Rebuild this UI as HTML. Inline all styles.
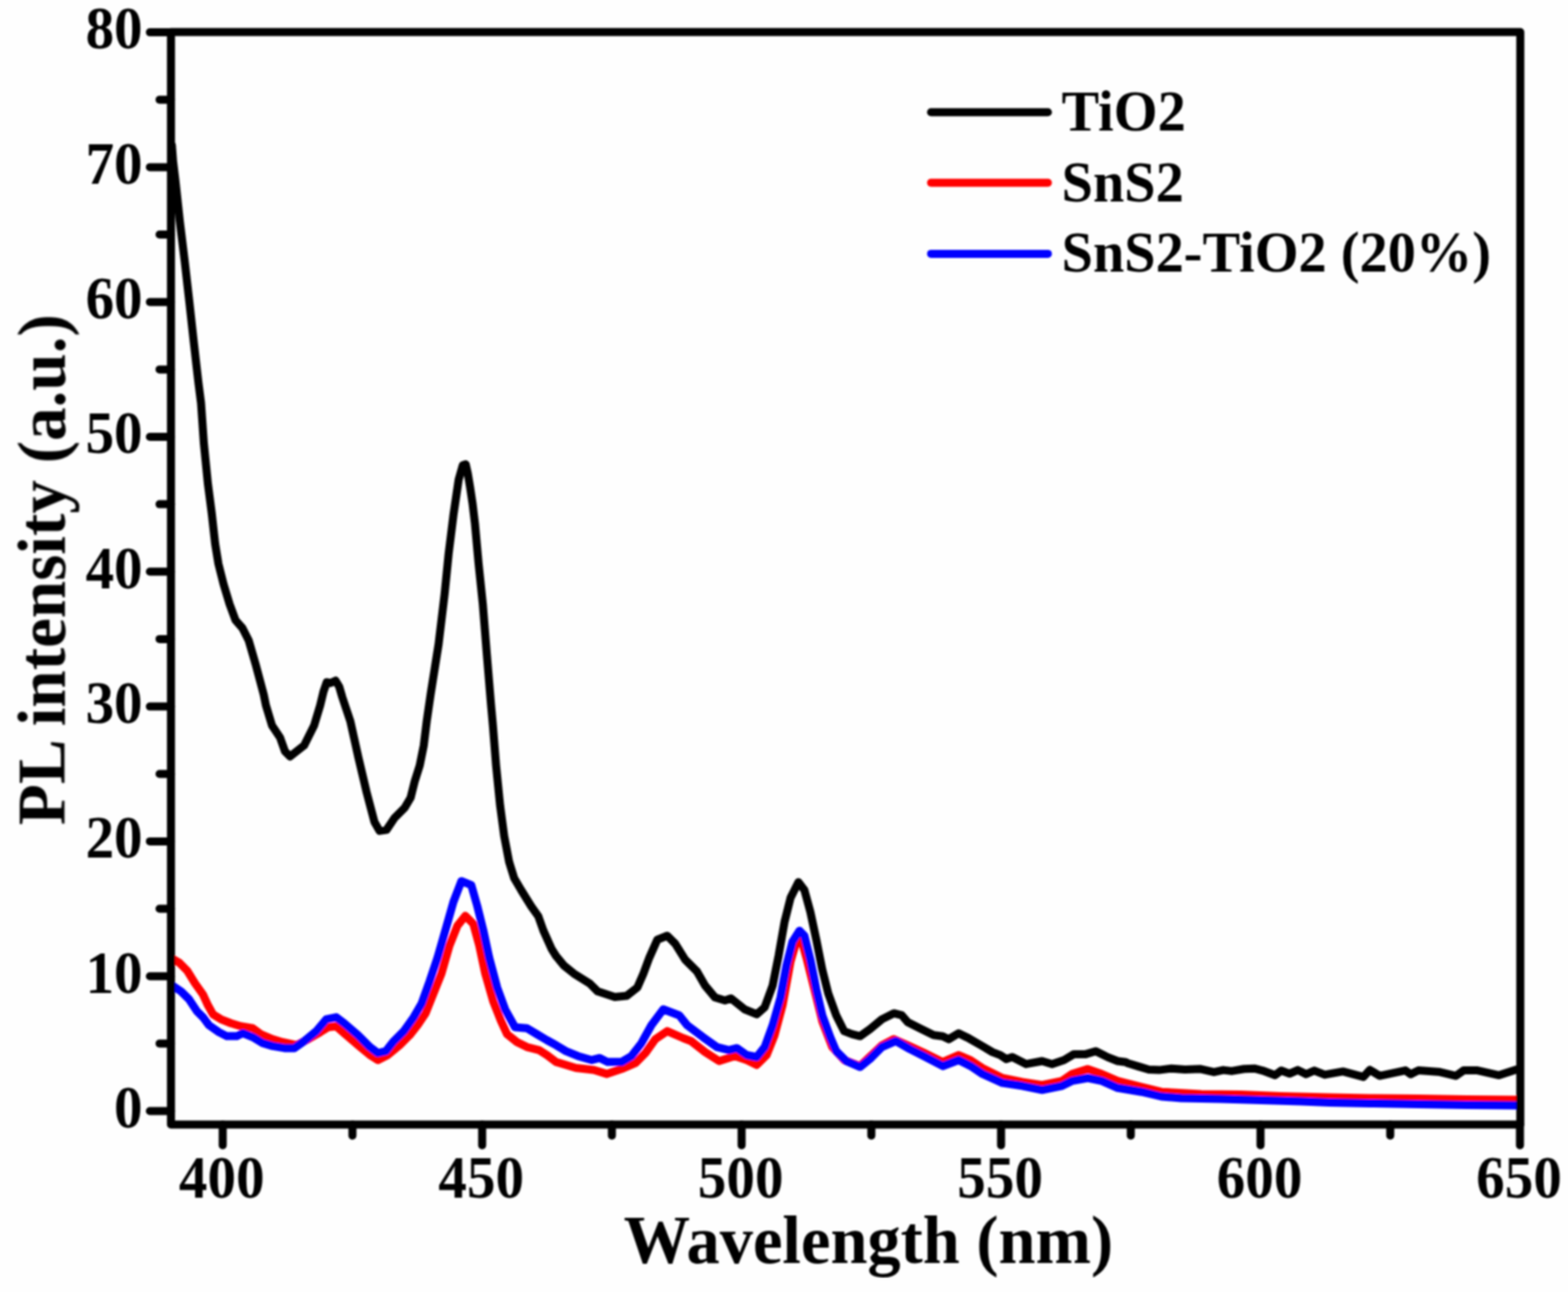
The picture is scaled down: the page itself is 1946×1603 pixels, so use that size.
<!DOCTYPE html>
<html><head><meta charset="utf-8"><style>
html,body{margin:0;padding:0;background:#fefefe;}
svg{display:block;}
text{font-family:"Liberation Serif","Times New Roman",serif;font-weight:bold;fill:#000;}
</style></head><body>
<svg width="1946" height="1603" viewBox="0 0 1946 1603">
<defs><filter id="b" x="0" y="0" width="1" height="1"><feGaussianBlur stdDeviation="1.3"/></filter></defs>
<rect width="1946" height="1603" fill="#fefefe"/>
<g filter="url(#b)">
<g fill="none" stroke-linejoin="round" stroke-linecap="round" stroke-width="10">
<path stroke="#000" d="M213.3,180.0 L214.8,200.0 L217.8,224.9 L223.2,274.8 L229.3,324.7 L235.0,374.6 L240.5,424.5 L246.2,474.3 L249.5,500.0 L253.0,550.0 L258.0,600.0 L262.8,637.0 L267.0,674.6 L271.1,699.6 L277.4,724.6 L284.9,749.5 L292.3,769.5 L301.0,779.4 L308.6,794.4 L317.3,824.4 L327.3,861.8 L330.0,875.0 L337.5,899.9 L347.5,914.9 L353.7,932.3 L359.9,938.6 L377.4,924.9 L389.9,899.9 L397.4,875.0 L401.5,858.0 L405.5,846.5 L410.0,847.5 L416.5,844.5 L421.0,852.0 L424.8,865.0 L434.8,894.9 L444.8,939.8 L454.8,982.2 L464.7,1019.7 L471.0,1030.9 L479.7,1029.6 L489.7,1014.7 L502.2,1002.2 L509.6,989.7 L514.6,969.8 L520.9,949.8 L525.9,924.9 L529.6,894.9 L534.4,861.8 L544.3,799.4 L551.8,737.0 L556.8,687.0 L563.0,637.2 L569.3,594.8 L574.3,577.3 L578.0,576.1 L580.5,587.0 L583.5,605.0 L586.5,625.0 L589.5,650.0 L594.0,699.6 L599.2,749.5 L604.2,811.9 L609.4,874.3 L611.7,899.9 L615.7,949.8 L620.7,999.7 L625.7,1037.1 L631.9,1069.6 L638.1,1089.5 L646.9,1104.5 L659.3,1124.5 L668.1,1136.9 L674.3,1154.4 L684.3,1176.8 L690.0,1186.0 L699.9,1198.0 L712.2,1207.9 L731.9,1220.2 L741.8,1230.1 L763.0,1237.0 L777.8,1235.5 L791.1,1225.1 L798.5,1207.9 L805.9,1188.1 L815.8,1165.9 L828.1,1161.0 L838.0,1170.9 L850.3,1190.6 L865.1,1205.4 L875.0,1222.7 L887.3,1237.5 L899.7,1241.2 L907.1,1238.7 L924.3,1252.3 L939.1,1258.4 L949.0,1249.8 L958.9,1222.7 L966.3,1185.7 L973.7,1143.7 L981.1,1114.1 L990.9,1094.4 L998.3,1104.3 L1005.7,1131.4 L1013.1,1165.9 L1020.5,1202.9 L1027.9,1232.5 L1037.8,1259.7 L1047.7,1279.4 L1057.5,1283.1 L1067.4,1285.6 L1079.7,1276.9 L1094.5,1264.6 L1109.3,1257.2 L1119.2,1259.7 L1126.6,1268.3 L1141.4,1275.7 L1158.7,1284.3 L1170.0,1285.7 L1177.4,1289.4 L1189.7,1282.0 L1202.1,1288.1 L1219.3,1298.0 L1231.7,1305.4 L1241.5,1309.1 L1248.9,1314.0 L1256.3,1311.6 L1273.6,1320.2 L1293.3,1316.5 L1305.7,1320.2 L1320.5,1315.3 L1332.8,1307.9 L1347.6,1307.9 L1359.9,1304.2 L1374.7,1311.6 L1387.1,1316.5 L1396.9,1317.7 L1400.0,1319.3 L1412.8,1323.1 L1425.7,1327.0 L1438.5,1327.6 L1454.0,1325.7 L1470.7,1327.0 L1490.0,1326.3 L1506.6,1330.2 L1518.2,1327.6 L1528.5,1328.9 L1543.9,1326.3 L1556.7,1325.7 L1567.0,1328.3 L1582.4,1334.0 L1590.1,1328.3 L1600.4,1332.1 L1610.7,1327.6 L1621.0,1332.8 L1631.2,1328.3 L1644.1,1333.4 L1666.7,1329.4 L1692.1,1336.1 L1700.1,1327.4 L1712.1,1334.8 L1744.2,1328.1 L1750.9,1332.8 L1760.2,1328.1 L1787.0,1330.1 L1807.0,1334.8 L1816.4,1328.1 L1833.7,1328.1 L1860.4,1334.1 L1882.0,1327.0"/>
<path stroke="#ff0000" d="M213.7,1189.4 L222.3,1194.3 L232.2,1204.2 L242.1,1220.2 L251.9,1233.8 L258.1,1247.3 L264.3,1258.4 L274.1,1264.6 L286.5,1269.5 L298.8,1273.2 L313.6,1275.7 L323.5,1283.1 L338.3,1289.3 L350.6,1293.0 L367.9,1296.7 L382.7,1289.3 L397.5,1280.6 L407.3,1274.5 L417.2,1273.2 L427.1,1281.9 L444.3,1296.7 L459.1,1309.0 L469.0,1315.2 L481.3,1309.0 L496.1,1296.7 L508.5,1284.3 L518.3,1272.0 L528.2,1257.2 L538.1,1232.5 L547.9,1207.9 L557.8,1173.3 L567.7,1148.7 L577.5,1136.3 L587.4,1146.2 L594.8,1173.3 L602.2,1207.9 L612.1,1242.4 L621.9,1267.1 L629.3,1283.1 L641.7,1293.0 L654.0,1299.1 L668.8,1302.8 L678.7,1309.0 L690.0,1317.6 L714.7,1325.0 L736.9,1327.5 L752.9,1332.4 L771.4,1326.3 L788.7,1318.9 L801.0,1306.5 L813.3,1289.3 L828.1,1279.4 L847.9,1288.0 L857.7,1291.7 L875.0,1305.3 L892.3,1316.4 L912.0,1310.2 L926.8,1315.2 L939.1,1321.3 L951.5,1309.0 L961.3,1284.3 L971.2,1247.3 L981.1,1193.1 L989.7,1163.5 L994.6,1165.9 L1000.8,1188.1 L1010.7,1227.6 L1020.5,1267.1 L1032.9,1299.1 L1047.7,1315.2 L1067.4,1322.6 L1079.7,1311.0 L1094.5,1297.0 L1109.3,1289.3 L1129.1,1298.0 L1146.3,1306.0 L1170.0,1317.7 L1189.7,1309.1 L1204.5,1315.3 L1219.3,1325.1 L1244.0,1337.5 L1268.7,1342.4 L1293.3,1346.1 L1318.0,1341.2 L1330.3,1332.5 L1350.1,1326.4 L1367.3,1332.5 L1387.1,1341.2 L1416.7,1348.6 L1441.3,1354.7 L1490.7,1357.5 L1540.0,1358.0 L1589.3,1360.0 L1650.0,1361.5 L1700.0,1362.5 L1760.0,1363.0 L1820.0,1364.0 L1882.0,1364.5"/>
<path stroke="#0000ff" d="M213.7,1222.7 L224.8,1230.1 L234.7,1239.9 L244.5,1254.7 L251.9,1262.1 L259.3,1272.0 L271.7,1280.6 L281.5,1285.6 L293.9,1285.6 L301.3,1281.9 L313.6,1286.8 L325.9,1294.2 L338.3,1297.9 L353.1,1300.4 L365.4,1300.4 L377.7,1291.7 L392.5,1279.4 L404.9,1264.6 L417.2,1262.1 L427.1,1269.5 L444.3,1284.3 L459.1,1299.1 L469.0,1306.5 L478.9,1304.1 L488.7,1291.7 L501.1,1279.4 L513.4,1262.1 L523.3,1244.9 L533.1,1217.7 L543.0,1188.1 L552.9,1153.6 L562.7,1119.1 L572.6,1093.2 L584.9,1098.1 L592.3,1124.0 L599.7,1153.6 L607.1,1188.1 L617.0,1225.1 L626.9,1252.3 L639.2,1274.5 L654.0,1275.7 L666.3,1283.1 L678.7,1290.5 L690.0,1296.7 L702.3,1304.1 L717.1,1310.2 L734.4,1315.2 L744.3,1312.7 L754.1,1317.6 L771.4,1317.6 L783.7,1310.2 L796.1,1294.2 L808.4,1272.0 L823.2,1252.3 L842.9,1259.7 L852.8,1272.0 L872.5,1286.8 L889.8,1299.1 L904.6,1302.8 L914.5,1300.4 L926.8,1309.0 L939.1,1311.5 L949.0,1299.1 L958.9,1272.0 L968.7,1237.5 L976.1,1198.0 L983.5,1168.4 L992.2,1154.8 L998.3,1161.0 L1005.7,1190.6 L1013.1,1227.6 L1020.5,1259.7 L1030.4,1286.8 L1037.8,1304.1 L1050.1,1316.4 L1067.4,1323.8 L1079.7,1313.9 L1094.5,1299.1 L1111.8,1291.7 L1129.1,1301.6 L1146.3,1310.2 L1170.0,1322.7 L1189.7,1315.3 L1204.5,1322.7 L1219.3,1332.5 L1244.0,1343.6 L1268.7,1347.3 L1293.3,1352.3 L1318.0,1347.3 L1330.3,1341.2 L1350.1,1337.5 L1367.3,1341.2 L1387.1,1349.8 L1416.7,1354.7 L1441.3,1360.5 L1466.0,1362.5 L1515.3,1363.5 L1564.7,1365.0 L1614.0,1366.5 L1650.0,1368.0 L1700.0,1369.0 L1760.0,1370.0 L1820.0,1371.0 L1882.0,1371.5"/>
</g>
<g stroke="#000" stroke-width="10" stroke-linecap="round" fill="none">
<line x1="276.4" y1="1395.3" x2="276.4" y2="1421"/><line x1="598.4" y1="1395.3" x2="598.4" y2="1421"/><line x1="920.4" y1="1395.3" x2="920.4" y2="1421"/><line x1="1242.4" y1="1395.3" x2="1242.4" y2="1421"/><line x1="1564.4" y1="1395.3" x2="1564.4" y2="1421"/><line x1="1886.4" y1="1395.3" x2="1886.4" y2="1421"/><line x1="437.4" y1="1395.3" x2="437.4" y2="1409"/><line x1="759.4" y1="1395.3" x2="759.4" y2="1409"/><line x1="1081.4" y1="1395.3" x2="1081.4" y2="1409"/><line x1="1403.4" y1="1395.3" x2="1403.4" y2="1409"/><line x1="1725.4" y1="1395.3" x2="1725.4" y2="1409"/><line x1="212.2" y1="1378.5" x2="186" y2="1378.5"/><line x1="212.2" y1="1211.2" x2="186" y2="1211.2"/><line x1="212.2" y1="1043.9" x2="186" y2="1043.9"/><line x1="212.2" y1="876.6" x2="186" y2="876.6"/><line x1="212.2" y1="709.3" x2="186" y2="709.3"/><line x1="212.2" y1="542.0" x2="186" y2="542.0"/><line x1="212.2" y1="374.7" x2="186" y2="374.7"/><line x1="212.2" y1="207.4" x2="186" y2="207.4"/><line x1="212.2" y1="40.1" x2="186" y2="40.1"/><line x1="212.2" y1="1294.8" x2="198" y2="1294.8"/><line x1="212.2" y1="1127.5" x2="198" y2="1127.5"/><line x1="212.2" y1="960.2" x2="198" y2="960.2"/><line x1="212.2" y1="792.9" x2="198" y2="792.9"/><line x1="212.2" y1="625.6" x2="198" y2="625.6"/><line x1="212.2" y1="458.4" x2="198" y2="458.4"/><line x1="212.2" y1="291.0" x2="198" y2="291.0"/><line x1="212.2" y1="123.8" x2="198" y2="123.8"/>
</g>
<rect x="212.2" y="39.8" width="1674.6" height="1355.5" fill="none" stroke="#000" stroke-width="10" stroke-linejoin="round"/>
<g font-size="73" text-anchor="middle">
<text transform="translate(275.2,1485.5) scale(0.97,1)">400</text><text transform="translate(597.2,1485.5) scale(0.97,1)">450</text><text transform="translate(919.2,1485.5) scale(0.97,1)">500</text><text transform="translate(1241.2,1485.5) scale(0.97,1)">550</text><text transform="translate(1563.2,1485.5) scale(0.97,1)">600</text><text transform="translate(1885.2,1485.5) scale(0.97,1)">650</text>
</g>
<g font-size="73" text-anchor="end">
<text transform="translate(177,1398.8) scale(0.97,1)">0</text><text transform="translate(177,1231.5) scale(0.97,1)">10</text><text transform="translate(177,1064.2) scale(0.97,1)">20</text><text transform="translate(177,896.9) scale(0.97,1)">30</text><text transform="translate(177,729.6) scale(0.97,1)">40</text><text transform="translate(177,562.3) scale(0.97,1)">50</text><text transform="translate(177,395.0) scale(0.97,1)">60</text><text transform="translate(177,227.7) scale(0.97,1)">70</text><text transform="translate(177,60.4) scale(0.97,1)">80</text>
</g>
<text transform="translate(1077.7,1566.5) scale(0.971,1)" font-size="85" text-anchor="middle">Wavelength (nm)</text>
<text transform="translate(80.5,706.8) rotate(-90) scale(0.98,1)" font-size="85" text-anchor="middle">PL intensity (a.u.)</text>
<g stroke-width="10" stroke-linecap="round">
<line x1="1155.5" y1="139.3" x2="1300.5" y2="139.3" stroke="#000"/>
<line x1="1155.5" y1="226.8" x2="1300.5" y2="226.8" stroke="#ff0000"/>
<line x1="1155.5" y1="314.9" x2="1300.5" y2="314.9" stroke="#0000ff"/>
</g>
<g font-size="71">
<text transform="translate(1317.5,161.7) scale(0.985,1)">TiO2</text>
<text transform="translate(1317.5,249.7) scale(0.985,1)">SnS2</text>
<text transform="translate(1317.5,337.2) scale(0.985,1)">SnS2-TiO2 (20%)</text>
</g>
</g>
</svg>
</body></html>
